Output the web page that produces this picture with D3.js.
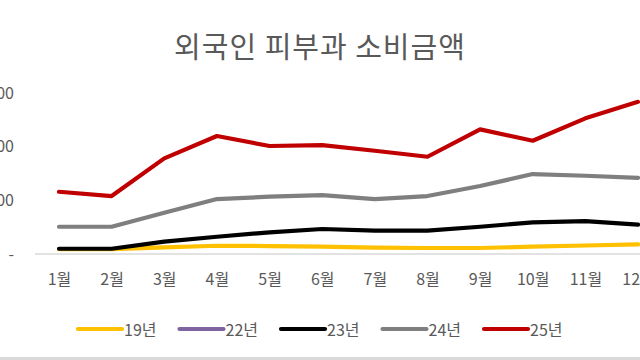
<!DOCTYPE html>
<html><head><meta charset="utf-8">
<script src="https://cdn.jsdelivr.net/npm/d3@7"></script>
<style>
html,body{margin:0;padding:0;background:#fff;}
svg{display:block;font-family:"Noto Sans CJK KR","Noto Sans",sans-serif;}
</style></head>
<body><svg id="c" width="640" height="360"></svg>
<script>
const months = ["1월","2월","3월","4월","5월","6월","7월","8월","9월","10월","11월","12월"];
const seriesNames = ["19년","22년","23년","24년","25년"];
const seriesColors = ["#FFC000","#8064A2","#000000","#7F7F7F","#C00000"];
const y19 = [45, 45, 62, 77, 74, 68, 60, 56, 56, 68, 79, 90];
const y22 = [null,null,null,null,null,null,null,null,null,null,null,null];
const y23 = [49, 49, 115, 161, 202, 233, 217, 217, 254, 295, 307, 273];
const y24 = [254, 254, 385, 512, 534, 549, 512, 540, 633, 745, 729, 710];
const y25 = [580, 540, 891, 1099, 1006, 1015, 962, 906, 1161, 1055, 1264, 1418];
const yTicks = [0, 500, 1000, 1500];
const title = "외국인 피부과 소비금액";

const allSeries = [y19, y22, y23, y24, y25];
const svg = d3.select("#c");
const textColor = "#595959";

const x = d3.scalePoint().domain(months).range([59, 638]);
const y = d3.scaleLinear().domain([0, 1500]).range([254, 93]);

// title
svg.append("text").attr("x", 320).attr("y", 45)
  .attr("text-anchor", "middle").attr("dominant-baseline", "central")
  .attr("font-size", 29).attr("letter-spacing", 1).attr("fill", textColor)
  .text(title);

// y axis labels
const yAxis = d3.axisLeft(y).tickValues(yTicks).tickSize(0).tickPadding(0)
  .tickFormat(d => d === 0 ? "-" : d3.format(",")(d));
const gy = svg.append("g").attr("transform", "translate(14,0)").call(yAxis);
gy.select(".domain").remove();
gy.selectAll("text").attr("font-size", 16).attr("fill", textColor)
  .attr("font-family", "\"Noto Sans CJK KR\",sans-serif");

// baseline (x axis)
const xAxis = d3.axisBottom(x).tickSize(0).tickPadding(20);
const gx = svg.append("g").attr("transform", `translate(0,${y(0)})`).call(xAxis);
gx.select(".domain").remove();
gx.selectAll("text").attr("font-size", 16).attr("fill", textColor)
  .attr("font-family", "\"Noto Sans CJK KR\",sans-serif");
svg.append("line").attr("x1", 35).attr("x2", 640)
  .attr("y1", y(0)).attr("y2", y(0))
  .attr("stroke", "#D9D9D9").attr("stroke-width", 1.5);

// lines
const line = d3.line().defined(d => d != null)
  .x((d, i) => x(months[i])).y(d => y(d));
allSeries.forEach((s, k) => {
  if (s.every(v => v == null)) return;
  svg.append("path").datum(s).attr("d", line)
    .attr("fill", "none").attr("stroke", seriesColors[k])
    .attr("stroke-width", 4.2).attr("stroke-linejoin", "round")
    .attr("stroke-linecap", "round");
});

// legend
const legY = 329;
const lg = svg.append("g");
seriesNames.forEach((n, k) => {
  const x0 = 78 + k * 101.5;
  lg.append("line").attr("x1", x0).attr("x2", x0 + 44)
    .attr("y1", legY).attr("y2", legY)
    .attr("stroke", seriesColors[k]).attr("stroke-width", 4.2)
    .attr("stroke-linecap", "round");
  lg.append("text").attr("x", x0 + 46).attr("y", legY)
    .attr("dominant-baseline", "central").attr("font-size", 16)
    .attr("fill", textColor).text(n);
});

// bottom border
svg.append("line").attr("x1", 0).attr("x2", 640).attr("y1", 358.5).attr("y2", 358.5)
  .attr("stroke", "#D9D9D9").attr("stroke-width", 3);
</script></body></html>
